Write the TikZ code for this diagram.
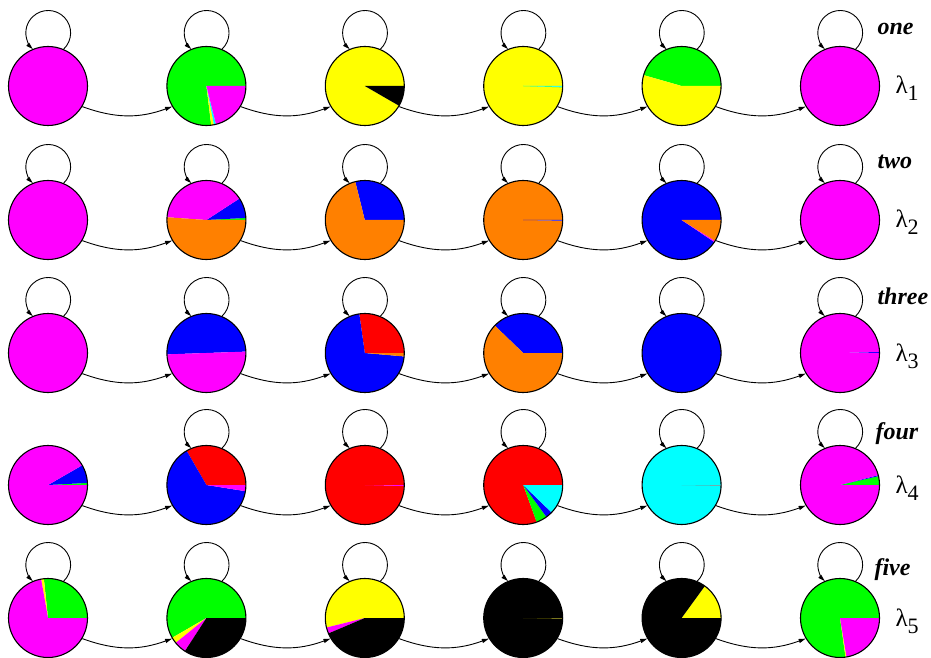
\documentclass[tikz,border=0pt]{standalone}
\usepackage{fontspec}
\setmainfont{Liberation Serif}
\usetikzlibrary{arrows.meta}
\definecolor{magenta}{RGB}{255,0,255}
\definecolor{yellow}{RGB}{255,255,0}
\definecolor{cyan}{RGB}{0,255,255}
\definecolor{green}{RGB}{0,255,0}
\definecolor{orange}{RGB}{255,128,0}
\definecolor{blue}{RGB}{0,0,255}
\definecolor{red}{RGB}{255,0,0}
\begin{document}
\begin{tikzpicture}[x=1pt,y=1pt,
  state/.style={circle,draw=black,line width=1.1pt,minimum size=79pt,inner sep=0pt},
  pie/.style={path picture={
    \foreach \a/\b/\col in {#1}{
      \fill[\col] (path picture bounding box.center) -- ++(\a:50pt)
        arc[start angle=\a,end angle=\b,radius=50pt] -- cycle;}}},
  steparrow/.style={line width=0.9pt,-{Triangle[length=7pt,width=4pt]}},
  looparrow/.style={line width=0.9pt,-{Triangle[length=7pt,width=4pt]}},
  wordlabel/.style={anchor=base west,font=\fontsize{24}{26}\selectfont\bfseries\itshape},
  lamlabel/.style={anchor=base west,font=\fontsize{25}{28}\selectfont}]
\useasboundingbox (0,0) rectangle (931,657);

% row one
\node[state,fill=magenta] (s11) at (48,571) {};
\node[state,pie={0/277/green,277/281/yellow,281/284/cyan,284/360/magenta}] (s12) at (206.4,571) {};
\node[state,pie={0/330/yellow,330/360/black}] (s13) at (364.8,571) {};
\node[state,pie={0/358/yellow,358/359/green,359/360/cyan}] (s14) at (523.2,571) {};
\node[state,pie={0/164/green,164/360/yellow}] (s15) at (681.6,571) {};
\node[state,fill=magenta] (s16) at (840,571) {};

% row two
\node[state,fill=magenta] (s21) at (48,437) {};
\node[state,pie={0/3/green,3/33/blue,33/176/magenta,176/360/orange}] (s22) at (206.4,437) {};
\node[state,pie={0/104/blue,104/360/orange}] (s23) at (364.8,437) {};
\node[state,pie={0/359/orange,359/360/blue}] (s24) at (523.2,437) {};
\node[state,pie={0/326/blue,326/328/magenta,328/360/orange}] (s25) at (681.6,437) {};
\node[state,fill=magenta] (s26) at (840,437) {};

% row three
\node[state,fill=magenta] (s31) at (48,304) {};
\node[state,pie={2/182/blue,182/362/magenta}] (s32) at (206.4,304) {};
\node[state,pie={0/98/red,98/355/blue,355/360/orange}] (s33) at (364.8,304) {};
\node[state,pie={0/136/blue,136/360/orange}] (s34) at (523.2,304) {};
\node[state,fill=blue] (s35) at (681.6,304) {};
\node[state,pie={0/1.5/blue,1.5/360/magenta}] (s36) at (840,304) {};

% row four
\node[state,pie={0/3/green,3/30/blue,30/360/magenta}] (s41) at (48,172) {};
\node[state,pie={0/120/red,120/351/blue,351/360/magenta}] (s42) at (206.4,172) {};
\node[state,pie={0/358.5/red,358.5/360/magenta}] (s43) at (364.8,172) {};
\node[state,pie={0/290/red,290/306/green,306/316/blue,316/360/cyan}] (s44) at (523.2,172) {};
\node[state,pie={0/359/cyan,359/360/gray}] (s45) at (681.6,172) {};
\node[state,pie={0/13/green,13/14.5/blue,14.5/360/magenta}] (s46) at (840,172) {};

% row five
\node[state,pie={0/96/green,96/100/yellow,100/360/magenta}] (s51) at (48,39) {};
\node[state,pie={0/210/green,210/219/yellow,219/237/magenta,237/360/black}] (s52) at (206.4,39) {};
\node[state,pie={0/194/yellow,194/203/magenta,203/360/black}] (s53) at (364.8,39) {};
\node[state,pie={0/359/black,359/360/olive}] (s54) at (523.2,39) {};
\node[state,pie={0/54/yellow,54/360/black}] (s55) at (681.6,39) {};
\node[state,pie={0/278/green,278/279.5/yellow,279.5/360/magenta}] (s56) at (840,39) {};

% transitions
\foreach \r in {1,...,5}
  \foreach \i/\j in {1/2,2/3,3/4,4/5,5/6}
    \draw[steparrow] (s\r\i.-31) to[out=-20,in=200] (s\r\j.211);

% self loops
\foreach \s in {s11,s12,s13,s14,s15,s16,s21,s22,s23,s24,s25,s26,
                s31,s32,s33,s34,s35,s36,s42,s43,s44,s45,s46,
                s51,s52,s53,s54,s55,s56}
  \draw[looparrow] (\s.67) arc[start angle=-46.5,end angle=226.5,radius=22.4];

% labels
\node[wordlabel] (w1) at (874,622) {one};
\node[wordlabel] (w2) at (874,488) {two};
\node[wordlabel] (w3) at (874,353) {three};
\node[wordlabel] (w4) at (872,218) {four};
\node[wordlabel] (w5) at (871,82) {five};
\foreach \r/\y in {1/563,2/429,3/296,4/164,5/31}
  \node[lamlabel] (l\r) at (892,\y) {λ\raisebox{-7pt}{\fontsize{22}{24}\selectfont\r}};
\end{tikzpicture}
\end{document}
